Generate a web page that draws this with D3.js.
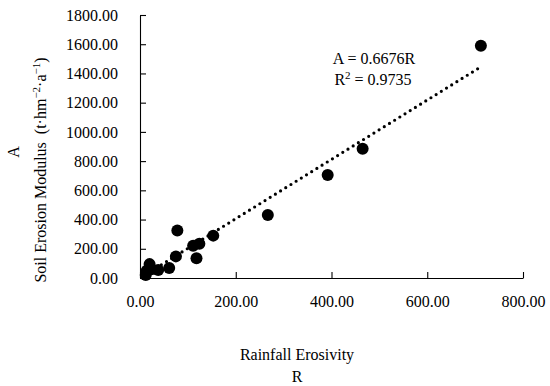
<!DOCTYPE html>
<html><head><meta charset="utf-8">
<script src="https://cdn.jsdelivr.net/npm/d3@7"></script>
<style>body{margin:0;background:#fff}svg{display:block}text{font-family:"Liberation Serif","Times New Roman",serif;fill:#000}</style>
</head><body><svg id="c" width="550" height="386"></svg>
<script>
const rainfallR = [12, 14, 20, 24, 38, 61, 75, 78, 111, 118, 124, 153, 267, 392, 465, 712];
const erosionA  = [20, 50, 95, 60, 55, 68, 148, 325, 220, 135, 235, 290, 431, 705, 885, 1590];
const xTicks = [0, 200, 400, 600, 800];
const yTicks = [0, 200, 400, 600, 800, 1000, 1200, 1400, 1600, 1800];
const trendSlope = 2.03; // slope of the drawn trendline
const eqLines = ["A = 0.6676R", "R2 = 0.9735"];

const svg = d3.select("#c");
const x = d3.scaleLinear().domain([0, 800]).range([140, 523]);
const y = d3.scaleLinear().domain([0, 1800]).range([278, 15]);
const fmt = d3.format(".2f");

const xAxis = svg.append("g").attr("transform", `translate(0,${y(0)})`)
  .call(d3.axisBottom(x).tickValues(xTicks).tickFormat(fmt).tickSizeInner(-6).tickSizeOuter(0).tickPadding(18));
const yAxis = svg.append("g").attr("transform", `translate(${x(0)},0)`)
  .call(d3.axisLeft(y).tickValues(yTicks).tickFormat(fmt).tickSizeInner(-6).tickSizeOuter(0).tickPadding(22));
[xAxis, yAxis].forEach(g => {
  g.selectAll("path,line").attr("stroke", "#000").attr("stroke-width", 1.1);
  g.selectAll("text").attr("font-size", 16).attr("font-family", "Liberation Serif, serif");
});

// trendline
const rMin = d3.min(rainfallR), rMax = d3.max(rainfallR);
svg.append("line")
  .attr("x1", x(rMin)).attr("y1", y(trendSlope * rMin))
  .attr("x2", x(rMax)).attr("y2", y(trendSlope * rMax))
  .attr("stroke", "#000").attr("stroke-width", 3.2)
  .attr("stroke-linecap", "round").attr("stroke-dasharray", "0 6.1");

svg.append("g").selectAll("circle").data(rainfallR.map((r, i) => [r, erosionA[i]]))
  .join("circle").attr("cx", d => x(d[0])).attr("cy", d => y(d[1])).attr("r", 6).attr("fill", "#000");

// equation
const eq = svg.append("text").attr("font-size", 16).attr("x", 374).attr("text-anchor", "middle");
eq.append("tspan").attr("x", 374).attr("y", 64).text(eqLines[0]);
const l2 = eq.append("tspan").attr("x", 373).attr("y", 85);
l2.append("tspan").text("R");
l2.append("tspan").attr("font-size", 11).attr("dy", -6).text("2");
l2.append("tspan").attr("dy", 6).text(" = 0.9735");

// x title
svg.append("text").attr("x", 297).attr("y", 360).attr("text-anchor", "middle").attr("font-size", 16).text("Rainfall Erosivity");
svg.append("text").attr("x", 297).attr("y", 382).attr("text-anchor", "middle").attr("font-size", 16).text("R");

// y title
svg.append("text").attr("transform", "translate(19,152) rotate(-90)").attr("text-anchor", "middle").attr("font-size", 16).text("A");
const yt = svg.append("text").attr("transform", "translate(46,170) rotate(-90)").attr("text-anchor", "middle").attr("font-size", 16);
yt.append("tspan").text("Soil Erosion Modulus\u00a0\u00a0(t·hm");
yt.append("tspan").attr("font-size", 11).attr("dy", -6).text("−2");
yt.append("tspan").attr("dy", 6).text("·a");
yt.append("tspan").attr("font-size", 11).attr("dy", -6).text("−1");
yt.append("tspan").attr("dy", 6).text(")");
</script></body></html>
